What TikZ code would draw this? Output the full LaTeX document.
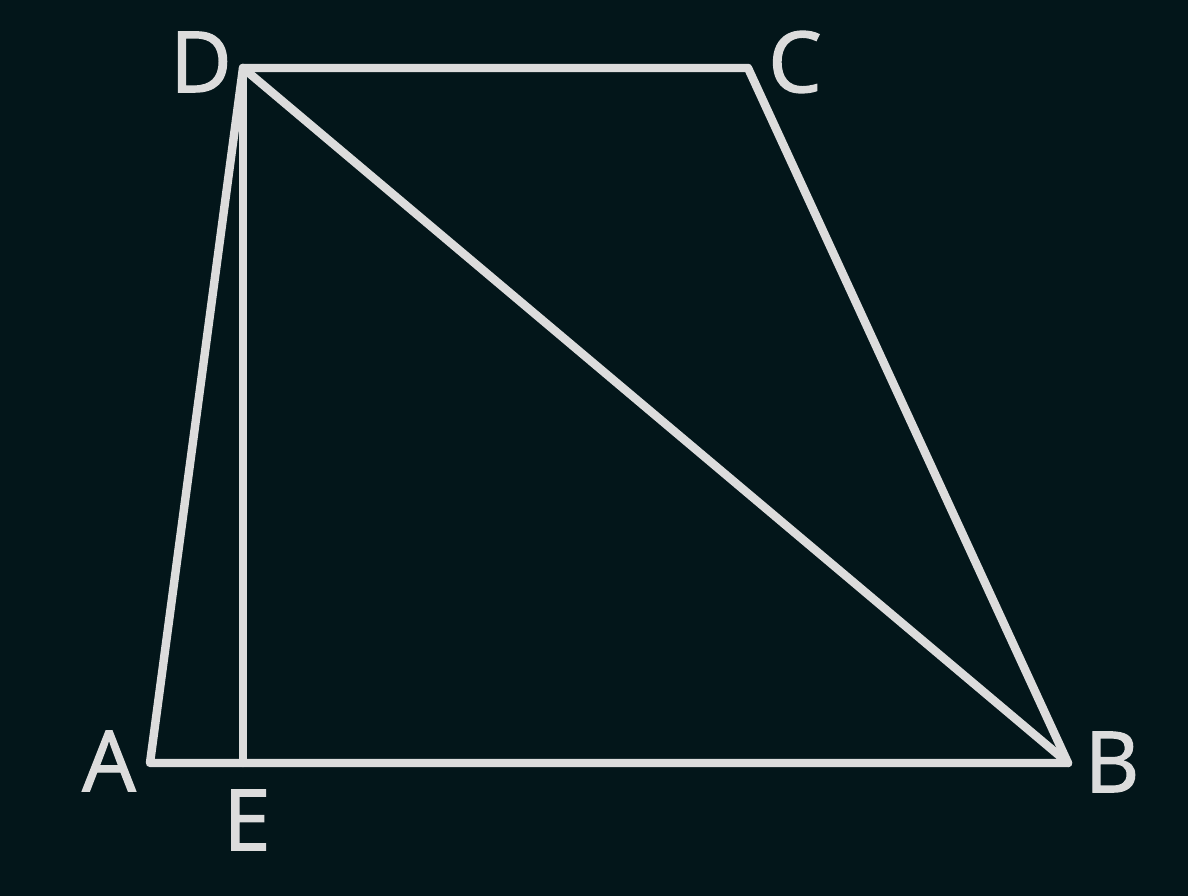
\documentclass[tikz,border=0pt]{standalone}
\usepackage{fontspec}
\setmainfont{Open Sans}
\newfontfamily\lblfont{Open Sans}[FakeBold=1.6]
\definecolor{bg}{HTML}{03161A}
\definecolor{ln}{HTML}{DCDCDC}
\tikzset{
  edge/.style={draw=ln, line width=2.4pt, line cap=round, line join=round},
  lbl/.style={text=ln, font=\lblfont\fontsize{24}{28}\selectfont, inner sep=0pt, anchor=center},
}
\begin{document}
\begin{tikzpicture}[x=1cm,y=1cm]
\fill[bg] (0,0) rectangle (11.88,8.96);
\useasboundingbox (0,0) rectangle (11.88,8.96);
\coordinate (D) at (2.43,8.28);
\coordinate (C) at (7.48,8.28);
\coordinate (A) at (1.50,1.33);
\coordinate (B) at (10.68,1.33);
\coordinate (E) at (2.43,1.33);
\draw[edge] (D) -- (C) -- (B) -- (A) -- cycle;
\draw[edge] (D) -- (B);
\draw[edge] (D) -- (E);
\node[lbl] (lD) at (2.01,8.34) {D};
\node[lbl] (lC) at (7.95,8.34) {C};
\node[lbl] (lA) at (1.09,1.35) {A};
\node[lbl] (lB) at (11.12,1.34) {B};
\node[lbl] (lE) at (2.47,0.76) {E};
\end{tikzpicture}
\end{document}
